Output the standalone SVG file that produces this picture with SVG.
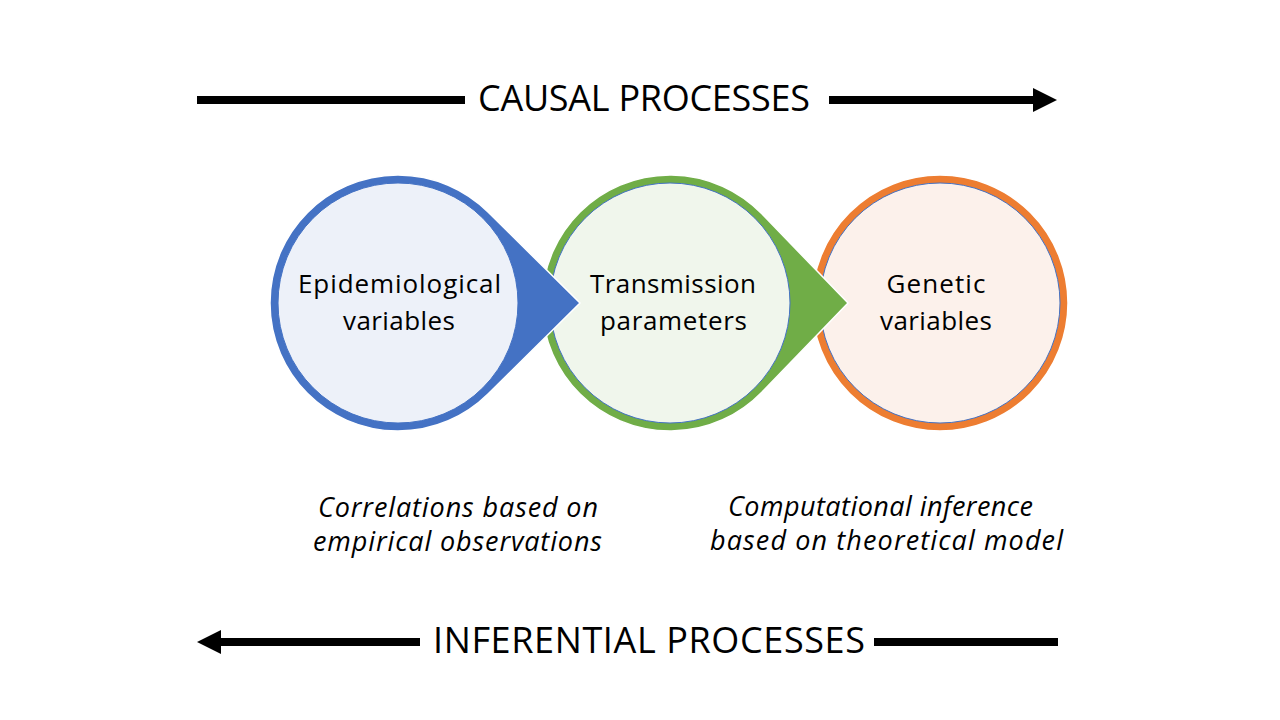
<svg xmlns="http://www.w3.org/2000/svg" width="1280" height="720" viewBox="0 0 1280 720">
<style>
.title{font-family:"Open Sans","Liberation Sans",sans-serif;font-size:36px;fill:#000;text-anchor:middle}
.node{font-family:"Open Sans","Liberation Sans",sans-serif;font-size:26px;fill:#000;text-anchor:middle}
.note{font-family:"Open Sans","Liberation Sans",sans-serif;font-size:27px;font-style:italic;fill:#000;text-anchor:middle}
.conn{stroke:#000;stroke-width:8;fill:none}
.outline{stroke:#fff;stroke-width:1.5}
.inner{stroke:#4472C4;stroke-width:1}
</style>
<defs>
<marker id="head" markerUnits="userSpaceOnUse" markerWidth="24" markerHeight="24" refX="0" refY="12" orient="auto" viewBox="0 0 24 24">
<path d="M0,0 L24,12 L0,24 Z" fill="#000"/>
</marker>
</defs>
<rect width="1280" height="720" fill="#fff"/>
<g id="connectors">
<line class="conn" x1="197" y1="100" x2="465" y2="100"/>
<line class="conn" x1="829" y1="100" x2="1033" y2="100" marker-end="url(#head)"/>
<line class="conn" x1="420" y1="642" x2="221" y2="642" marker-end="url(#head)"/>
<line class="conn" x1="874" y1="642" x2="1058" y2="642"/>
</g>
<g id="causal-title">
<text class="title" x="644" y="111" textLength="332" lengthAdjust="spacing">CAUSAL PROCESSES</text>
</g>
<g id="inferential-title">
<text class="title" x="649" y="653" textLength="432" lengthAdjust="spacing">INFERENTIAL PROCESSES</text>
</g>
<g id="genetic">
<circle class="outline" cx="940" cy="303" r="128" fill="#ED7D31"/>
<circle class="inner" cx="940" cy="303" r="120" fill="#FCF1EB"/>
<text class="node" x="936" y="293" textLength="99" lengthAdjust="spacing">Genetic</text>
<text class="node" x="936" y="330" textLength="112" lengthAdjust="spacing">variables</text>
</g>
<g id="transmission">
<path class="outline" d="M848,303 L762.1,214.1 A128,128 0 1 0 762.1,391.9 Z" fill="#70AD47"/>
<circle class="inner" cx="670" cy="303" r="120" fill="#F0F6EC"/>
<text class="node" x="673" y="293" textLength="166" lengthAdjust="spacing">Transmission</text>
<text class="node" x="673.5" y="330" textLength="147" lengthAdjust="spacing">parameters</text>
</g>
<g id="epidemiological">
<path class="outline" d="M580,303 L488,212 A128,128 0 1 0 488,394 Z" fill="#4472C4"/>
<circle class="inner" cx="398" cy="303" r="120" fill="#EDF1F9"/>
<text class="node" x="399.5" y="293" textLength="203" lengthAdjust="spacing">Epidemiological</text>
<text class="node" x="399" y="330" textLength="112" lengthAdjust="spacing">variables</text>
</g>
<g id="correlations-note">
<text class="note" x="458" y="517" textLength="280" lengthAdjust="spacing">Correlations based on</text>
<text class="note" x="457.5" y="551" textLength="289" lengthAdjust="spacing">empirical observations</text>
</g>
<g id="computational-note">
<text class="note" x="880.5" y="516" textLength="305" lengthAdjust="spacing">Computational inference</text>
<text class="note" x="886.5" y="550" textLength="353" lengthAdjust="spacing">based on theoretical model</text>
</g>
</svg>
